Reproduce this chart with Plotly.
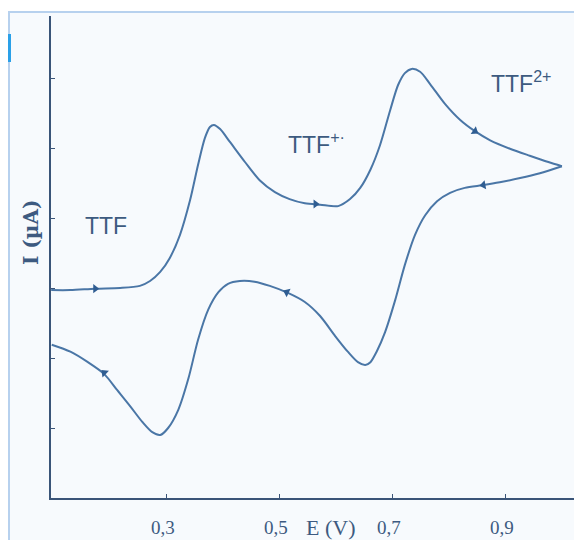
import plotly.graph_objects as go

# Forward (oxidation) scan: E in V, I in arbitrary units
E_forward = [0.095, 0.129, 0.173, 0.217, 0.252, 0.270, 0.288, 0.305, 0.323, 0.341,
             0.355, 0.367, 0.376, 0.383, 0.394, 0.411, 0.438, 0.464, 0.491, 0.517,
             0.544, 0.571, 0.603, 0.624, 0.642, 0.660, 0.677, 0.695, 0.709, 0.721,
             0.733, 0.748, 0.766, 0.792, 0.819, 0.845, 0.872, 0.907, 0.942, 0.975, 0.999]
I_forward = [2.97, 2.97, 2.99, 3.00, 3.03, 3.10, 3.23, 3.43, 3.76, 4.26,
             4.76, 5.14, 5.30, 5.33, 5.27, 5.09, 4.80, 4.54, 4.37, 4.27,
             4.21, 4.19, 4.17, 4.27, 4.43, 4.69, 5.04, 5.54, 5.90, 6.07,
             6.13, 6.09, 5.91, 5.63, 5.40, 5.24, 5.11, 4.99, 4.89, 4.80, 4.74]

# Reverse (reduction) scan
E_reverse = [0.999, 0.960, 0.925, 0.889, 0.860, 0.827, 0.801, 0.778, 0.757, 0.739,
             0.721, 0.704, 0.686, 0.671, 0.660, 0.651, 0.638, 0.620, 0.598, 0.571,
             0.544, 0.514, 0.482, 0.455, 0.429, 0.408, 0.391, 0.373, 0.355, 0.338,
             0.320, 0.302, 0.288, 0.274, 0.256, 0.235, 0.212, 0.189, 0.160, 0.129, 0.096]
I_reverse = [4.74, 4.64, 4.57, 4.51, 4.47, 4.43, 4.36, 4.24, 4.04, 3.76,
             3.33, 2.83, 2.37, 2.09, 1.94, 1.90, 1.94, 2.09, 2.31, 2.60,
             2.80, 2.93, 3.03, 3.09, 3.10, 3.06, 2.94, 2.69, 2.26, 1.71,
             1.26, 1.00, 0.90, 0.94, 1.09, 1.31, 1.54, 1.77, 1.94, 2.09, 2.19]

# Scan-direction arrows
arrow_E = [0.173, 0.563, 0.845, 0.860, 0.512, 0.189]
arrow_I = [2.99, 4.20, 5.24, 4.47, 2.94, 1.79]
arrow_angle = [0, 0, 34, 170, 205, 224]

x_tickvals = [0.3, 0.5, 0.7, 0.9]
x_ticktext = ["0,3", "0,5", "0,7", "0,9"]
y_tickvals = [1, 2, 3, 4, 5, 6]

species_labels = ["TTF", "TTF<sup>+·</sup>", "TTF<sup>2+</sup>"]
species_E = [0.192, 0.565, 0.927]
species_I = [3.89, 5.07, 5.94]

line_col = "#4a76a6"
axis_col = "#3a5478"
text_col = "#3d5a80"
serif = "Liberation Serif, Times New Roman, serif"

PX_PER_V = 565.0   # horizontal scale of the scan
PX_PER_I = 70.0    # vertical tick spacing

# The page body has an 8 px margin, so the figure is drawn 8 px in from the corner.
OFF = 8
W, H = 582 - OFF, 540 - OFF
ml, mr, mt, mb = 51 - OFF, 2, 16 - OFF, 42
pw, ph = W - ml - mr, H - mt - mb
x_start = 0.0947


def px_to_paper(px, py):
    # screen pixel -> paper coords
    return (px - OFF - ml) / pw, (H - mb - (py - OFF)) / ph


fig = go.Figure()
fig.add_trace(go.Scatter(x=E_forward, y=I_forward, mode="lines",
                         line=dict(color=line_col, width=2, shape="spline", smoothing=0.8),
                         hoverinfo="skip", showlegend=False))
fig.add_trace(go.Scatter(x=E_reverse, y=I_reverse, mode="lines",
                         line=dict(color=line_col, width=2, shape="spline", smoothing=0.8),
                         hoverinfo="skip", showlegend=False))
fig.add_trace(go.Scatter(x=arrow_E, y=arrow_I, mode="markers",
                         marker=dict(symbol="triangle-right", size=8, color="#2f5d92",
                                     angle=arrow_angle),
                         hoverinfo="skip", showlegend=False))

for lab, ex, iy in zip(species_labels, species_E, species_I):
    fig.add_annotation(x=ex, y=iy, text=lab, showarrow=False,
                       xanchor="center", yanchor="middle",
                       font=dict(family="Liberation Sans Narrow, Liberation Sans, Arial",
                                 size=23, color=text_col))

# x tick labels (set slightly left of the ticks, as in the scan)
for tv, tt in zip(x_tickvals, x_ticktext):
    fig.add_annotation(x=tv, yref="paper", y=px_to_paper(0, 527)[1], text=tt,
                       showarrow=False, xshift=-4, xanchor="center", yanchor="middle",
                       font=dict(family=serif, size=19, color=text_col))

# background frame
x0, y1 = px_to_paper(9, 12)
x1, y0 = px_to_paper(590, 548)
fig.add_shape(type="rect", xref="paper", yref="paper", x0=x0, x1=x1, y0=y0, y1=y1,
              fillcolor="#f7fafd", line=dict(color="#b7d1ee", width=2), layer="below")
bx0, by0 = px_to_paper(9.5, 62)
_, by1 = px_to_paper(9.5, 34)
fig.add_shape(type="line", xref="paper", yref="paper", x0=bx0, x1=bx0, y0=by0, y1=by1,
              line=dict(color="#2aa0e8", width=3), layer="below")

ax, ay = px_to_paper(31, 233)
fig.add_annotation(xref="paper", yref="paper", x=ax, y=ay, text="<b>I (µA)</b>",
                   textangle=-90, showarrow=False, xanchor="center", yanchor="middle",
                   font=dict(family="DejaVu Serif, serif", size=20, color=text_col))
ex_, ey_ = px_to_paper(330, 527)
fig.add_annotation(xref="paper", yref="paper", x=ex_, y=ey_, text="E (V)", showarrow=False,
                   xanchor="center", yanchor="middle",
                   font=dict(family=serif, size=22, color=text_col))

fig.update_layout(
    width=W, height=H,
    margin=dict(l=ml, r=mr, t=mt, b=mb),
    paper_bgcolor="white", plot_bgcolor="rgba(0,0,0,0)",
    xaxis=dict(range=[x_start, x_start + pw / PX_PER_V], tickvals=x_tickvals,
               showticklabels=False,
               ticks="inside", ticklen=4, tickcolor=axis_col, showgrid=False, zeroline=False,
               showline=True, linecolor=axis_col, linewidth=2),
    yaxis=dict(range=[0, ph / PX_PER_I], tickvals=y_tickvals, showticklabels=False,
               ticks="inside", ticklen=4, tickcolor=axis_col, showgrid=False, zeroline=False,
               showline=True, linecolor=axis_col, linewidth=2),
)

fig.write_html("out.html")
